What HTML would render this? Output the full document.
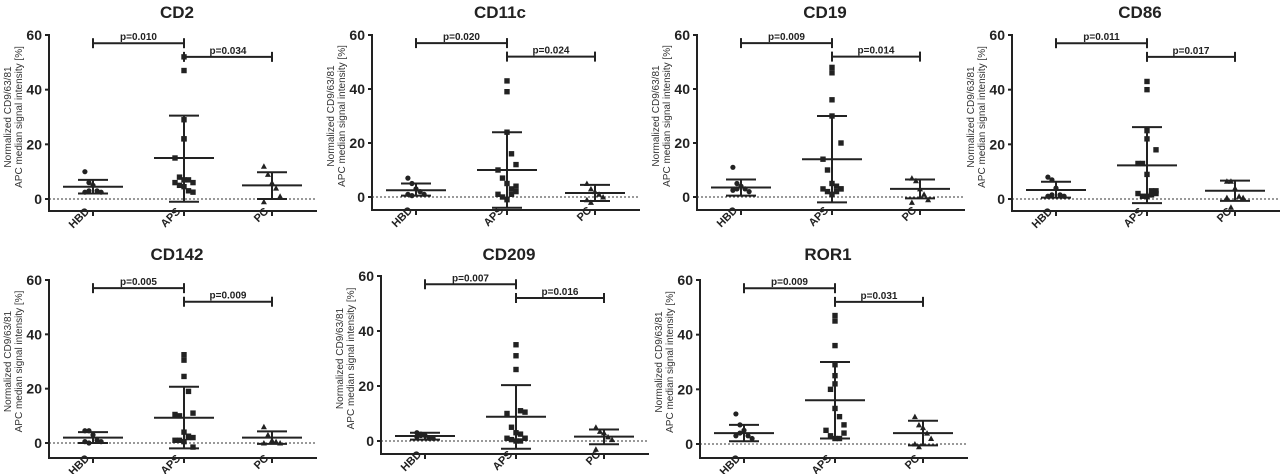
<!DOCTYPE html>
<html><head><meta charset="utf-8">
<style>
html,body{margin:0;padding:0;background:#fff;}
svg{display:block;font-family:"Liberation Sans",Arial,sans-serif;}
</style></head>
<body>
<svg id="chart" width="1280" height="474" viewBox="0 0 1280 474" xmlns="http://www.w3.org/2000/svg"></svg>
<script>
const categories = ["HBD","APS","PC"];
const yTicks = [0,20,40,60];
const panelTitles = ["CD2","CD11c","CD19","CD86","CD142","CD209","ROR1"];
const hbdValues = [
 [10,6,5,3,2.5,2.5,3],
 [7,5,3,2,1,1,0.5],
 [11,5,4,3,2,2.5,3],
 [8,7,4,1.5,1,1,1.5],
 [4.5,4.5,3,1,0.5,0.5,0],
 [3,2.5,2,1,1,1.5,2],
 [11,7,5,3,2,3,4]];
const apsValues = [
 [52,47,29,22,22,15,8,7,7,6,6,5,4.5,3,2.5],
 [43,39,24,16,12,10,7,5,3,2,1,0,-1,1,4],
 [48,46,36,30,20,14,10,5,4,3,3,2,1,2,3],
 [43,40,25,22,18,13,13,9,3,3,2,1,1,1.5,2],
 [32.5,30.5,24.5,19,11,10.5,10,4,2.5,2,1,1,0.5,2,-1.5],
 [35,31,26,11,10.5,10,5,3,2.5,1,1,0.5,0,0,1],
 [47,45,36,29,25,22,20,13,10,7,5,3,2,2,4]];
const pcValues = [
 [12,9,6,4,1,-1],
 [5,3,2,1,0,-1,-2],
 [7,6,3,1,-1,-2],
 [6.5,6.5,4,1,0.5,0.5,-3],
 [6,3,1,0.5,0,0],
 [5,3.5,3,1.5,0.5,-3],
 [10,7,6,4,2,0,-1]];
const groupMeans = [[4.5,15,5],[2.5,10,1.5],[3.5,14,3],[3.3,12.3,3],[2,9.3,2],[1.8,8.8,1.6],[4,16,4]];
const groupLow = [[2,-1,0],[0.5,-4,-1.5],[0.5,-2,-0.5],[0.5,-1.5,-0.7],[0,-2,-0.3],[0.5,-2.8,-1.2],[1,2,-0.5]];
const groupHigh = [[7,30.5,9.8],[5,24,4.5],[6.5,30,6.5],[6.3,26.3,6.7],[4,20.7,4.3],[3,20.3,4.2],[7,30,8.5]];
const pLabels = [["p=0.010","p=0.034"],["p=0.020","p=0.024"],["p=0.009","p=0.014"],["p=0.011","p=0.017"],["p=0.005","p=0.009"],["p=0.007","p=0.016"],["p=0.009","p=0.031"]];
const pLevels = [57,52];

// layout (not data)
const layout = [
 {ax:49,y0:199,y60:35,xa:211,top:12},
 {ax:372,y0:197,y60:35,xa:210,top:12},
 {ax:697,y0:197,y60:35,xa:210,top:12},
 {ax:1012,y0:199,y60:35,xa:211,top:12},
 {ax:49,y0:443,y60:280,xa:458,top:254},
 {ax:381,y0:441,y60:276,xa:454,top:254},
 {ax:700,y0:444,y60:280,xa:458,top:254}];
const catOff=[44,135,223];
const svg=document.getElementById('chart');
const NS="http://www.w3.org/2000/svg";
function mk(tag,attrs,parent,text){const e=document.createElementNS(NS,tag);for(const k in attrs)e.setAttribute(k,attrs[k]);if(text!==undefined)e.textContent=text;(parent||svg).appendChild(e);return e;}

panelTitles.forEach((title,i)=>{
 const L=layout[i];
 const g=mk('g',{});
 
 
 const y=v=>L.y0-(v/60)*(L.y0-L.y60);
 const x=c=>L.ax+catOff[c];
 const t=mk('text',{x:L.ax+128,y:L.top+6,'text-anchor':'middle','font-size':17,'font-weight':'bold',fill:'#222'},g,title);
 
 
 const ya=mk('line',{x1:L.ax,y1:y(60)-1,x2:L.ax,y2:L.xa,stroke:'#222','stroke-width':2},g);
 
 
 const xa=mk('line',{x1:L.ax-1,y1:L.xa,x2:L.ax+268,y2:L.xa,stroke:'#222','stroke-width':2},g);
 
 
 const zl=mk('line',{x1:L.ax,y1:y(0),x2:L.ax+268,y2:y(0),stroke:'#333','stroke-width':1,'stroke-dasharray':'2,2'},g);
 
 
 yTicks.forEach(v=>{
  mk('line',{x1:L.ax-4,y1:y(v),x2:L.ax,y2:y(v),stroke:'#222','stroke-width':2},g);
  const tl=mk('text',{x:L.ax-7,y:y(v)+5,'text-anchor':'end','font-size':14,'font-weight':'bold',fill:'#222'},g,v);
  
  
 });
 const yt=mk('text',{transform:`translate(${L.ax-37},${(y(60)+y(0))/2}) rotate(-90)`,'text-anchor':'middle','font-size':10,fill:'#333'},g);
 
 
 mk('tspan',{x:0,dy:-1},yt,'Normalized CD9/63/81');
 mk('tspan',{x:0,dy:11},yt,'APC median signal intensity [%]');
 categories.forEach((c,ci)=>{
  mk('line',{x1:x(ci),y1:L.xa,x2:x(ci),y2:L.xa+5,stroke:'#222','stroke-width':2},g);
  const cl=mk('text',{transform:`translate(${x(ci)-3},${L.xa+1}) rotate(-45)`,'text-anchor':'end','font-size':11,'font-weight':'bold',fill:'#222'},g,c);
  
  
 });
 const sets=[hbdValues[i],apsValues[i],pcValues[i]];
 sets.forEach((vals,ci)=>{
  vals.forEach((v,k)=>{
   const jit=((k%5)-2)*4.5*(ci==1?1:0.9);
   const px=x(ci)+(v>20?0:jit), py=y(v);
   let m;
   if(ci==0) m=mk('circle',{cx:px,cy:py,r:2.6,fill:'#222'},g);
   else if(ci==1) m=mk('rect',{x:px-2.7,y:py-2.7,width:5.4,height:5.4,fill:'#222'},g);
   else m=mk('polygon',{points:`${px},${py-3} ${px-3},${py+2.5} ${px+3},${py+2.5}`,fill:'#222'},g);
   
   
  });
  const cx=x(ci);
  const eb=mk('g',{stroke:'#222','stroke-width':2},g);
  
  
  mk('line',{x1:cx,y1:y(groupLow[i][ci]),x2:cx,y2:y(groupHigh[i][ci])},eb);
  mk('line',{x1:cx-15,y1:y(groupLow[i][ci]),x2:cx+15,y2:y(groupLow[i][ci])},eb);
  mk('line',{x1:cx-15,y1:y(groupHigh[i][ci]),x2:cx+15,y2:y(groupHigh[i][ci])},eb);
  mk('line',{x1:cx-30,y1:y(groupMeans[i][ci]),x2:cx+30,y2:y(groupMeans[i][ci])},eb);
 });
 [[0,1],[1,2]].forEach((pr,pi)=>{
  const by=y(pLevels[pi]);
  const b=mk('g',{stroke:'#222','stroke-width':2},g);
  
  
  mk('line',{x1:x(pr[0]),y1:by,x2:x(pr[1]),y2:by},b);
  mk('line',{x1:x(pr[0]),y1:by-5,x2:x(pr[0]),y2:by+5},b);
  mk('line',{x1:x(pr[1]),y1:by-5,x2:x(pr[1]),y2:by+5},b);
  const pt=mk('text',{x:(x(pr[0])+x(pr[1]))/2,y:by-3,'text-anchor':'middle','font-size':10,'font-weight':'bold',fill:'#222'},g,pLabels[i][pi]);
  
  
 });
});
</script>
</body></html>
